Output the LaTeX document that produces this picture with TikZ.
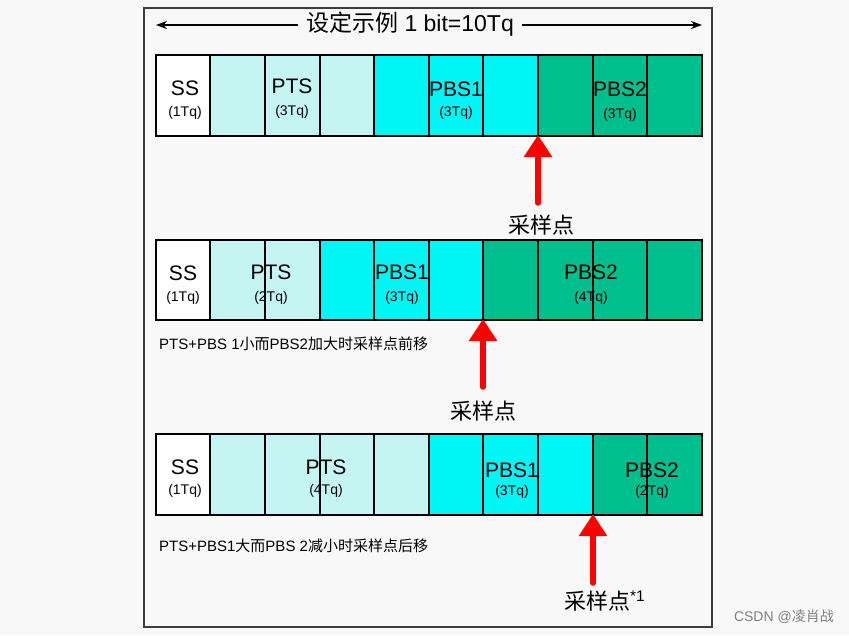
\documentclass[tikz,border=0pt]{standalone}
\usepackage{fontspec}
\setmainfont{Liberation Sans}
\newfontfamily\cjk{Noto Sans CJK SC}
\usetikzlibrary{arrows.meta}
\definecolor{bgc}{RGB}{248,248,248}
\definecolor{ltc}{RGB}{196,245,242}
\definecolor{cyc}{RGB}{0,245,245}
\definecolor{grc}{RGB}{0,191,143}
\definecolor{framec}{RGB}{60,60,60}
\begin{document}
\begin{tikzpicture}[x=1pt,y=-1pt,
  big/.style={font=\fontsize{21}{23}\selectfont, inner sep=0pt},
  small/.style={font=\fontsize{14}{15}\selectfont, inner sep=0pt},
  note/.style={font=\fontsize{15}{16}\selectfont, inner sep=0pt, anchor=west},
  samp/.style={font=\cjk\fontsize{22}{24}\selectfont, inner sep=0pt},
  cellline/.style={draw=black, line width=1.1pt},
  boxline/.style={draw=black, line width=1.5pt},
  redarrow/.style={draw=red, line width=5.5pt, line cap=round, -{Triangle[width=27pt,length=22pt]}},
  spanarrow/.style={draw=black, line width=1.3pt, -{Stealth[length=11pt,width=8pt]}}
]
\useasboundingbox (0,0) rectangle (849,635);
\fill[bgc] (0,0) rectangle (849,635);
\draw[framec, line width=1.4pt] (144,8) rectangle (712,627);

% title
\node[font=\fontsize{23}{25}\selectfont, inner ysep=0pt, inner xsep=8pt] (title) at (410,24) {{\cjk 设定示例} 1 bit=10Tq};
\coordinate (tl) at (156,25);
\coordinate (tr) at (702,25);
\draw[spanarrow] (title.west |- tl) -- (tl);
\draw[spanarrow] (title.east |- tr) -- (tr);

% row 1
\fill[white] (156,55) rectangle (210,136);
\fill[ltc] (210,55) rectangle (374,136);
\fill[cyc] (374,55) rectangle (538,136);
\fill[grc] (538,55) rectangle (702,136);
\foreach \x in {210,265,320,374,429,483,538,593,647} \draw[cellline] (\x,55) -- (\x,136);
\draw[boxline] (156,55) rectangle (702,136);
\node[big] (ss1) at (185,88) {SS};
\node[small] (ss1t) at (185,113) {(1Tq)};
\node[big] (pts1) at (292,86) {PTS};
\node[small] (pts1t) at (292,112) {(3Tq)};
\node[big] (pbsa1) at (456,89) {PBS1};
\node[small] (pbsa1t) at (456,113) {(3Tq)};
\node[big] (pbsb1) at (620,89) {PBS2};
\node[small] (pbsb1t) at (620,115) {(3Tq)};

% arrow 1
\coordinate (tip1) at (538,135);
\coordinate (tail1) at (538,203);
\draw[redarrow] (tail1) -- (tip1);
\node[samp] (lab1) at (541,225) {采样点};

% row 2
\fill[white] (156,240) rectangle (210,320);
\fill[ltc] (210,240) rectangle (320,320);
\fill[cyc] (320,240) rectangle (483,320);
\fill[grc] (483,240) rectangle (702,320);
\foreach \x in {210,265,320,374,429,483,538,593,647} \draw[cellline] (\x,240) -- (\x,320);
\draw[boxline] (156,240) rectangle (702,320);
\node[big] (ss2) at (183,273) {SS};
\node[small] (ss2t) at (183,298) {(1Tq)};
\node[big] (pts2) at (271,272) {PTS};
\node[small] (pts2t) at (271,298) {(2Tq)};
\node[big] (pbsa2) at (402,272) {PBS1};
\node[small] (pbsa2t) at (402,298) {(3Tq)};
\node[big] (pbsb2) at (591,272) {PBS2};
\node[small] (pbsb2t) at (591,298) {(4Tq)};
\node[note] (note2) at (159,344) {PTS+PBS 1{\cjk 小而}PBS2{\cjk 加大时采样点前移}};

% arrow 2
\coordinate (tip2) at (483,319);
\coordinate (tail2) at (483,387);
\draw[redarrow] (tail2) -- (tip2);
\node[samp] (lab2) at (483,411) {采样点};

% row 3
\fill[white] (156,434) rectangle (210,515);
\fill[ltc] (210,434) rectangle (429,515);
\fill[cyc] (429,434) rectangle (593,515);
\fill[grc] (593,434) rectangle (702,515);
\foreach \x in {210,265,320,374,429,483,538,593,647} \draw[cellline] (\x,434) -- (\x,515);
\draw[boxline] (156,434) rectangle (702,515);
\node[big] (ss3) at (185,467) {SS};
\node[small] (ss3t) at (185,491) {(1Tq)};
\node[big] (pts3) at (326,467) {PTS};
\node[small] (pts3t) at (326,491) {(4Tq)};
\node[big] (pbsa3) at (512,470) {PBS1};
\node[small] (pbsa3t) at (512,492) {(3Tq)};
\node[big] (pbsb3) at (652,470) {PBS2};
\node[small] (pbsb3t) at (652,492) {(2Tq)};
\node[note] (note3) at (159,546) {PTS+PBS1{\cjk 大而}PBS 2{\cjk 减小时采样点后移}};

% arrow 3
\coordinate (tip3) at (593,514);
\coordinate (tail3) at (593,583);
\draw[redarrow] (tail3) -- (tip3);
\node[samp, anchor=west] (lab3) at (564,601) {采样点\textsuperscript{\fontspec{Liberation Sans}*1}};

% watermark
\node[font=\fontsize{14}{15}\selectfont, text=gray, inner sep=0pt, anchor=east] (wm) at (834,617) {CSDN @{\cjk 凌肖战}};
\end{tikzpicture}
\end{document}
